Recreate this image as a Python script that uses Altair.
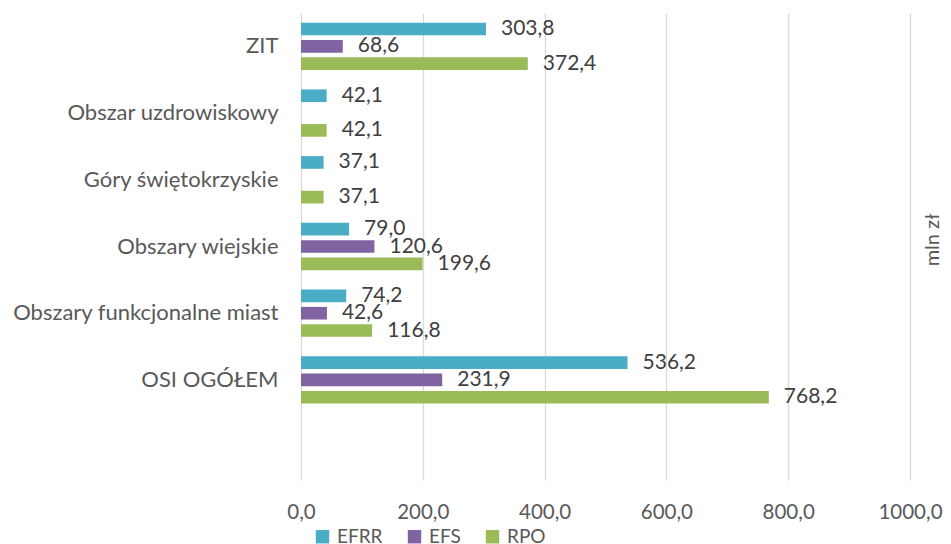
import altair as alt
import pandas as pd

categories = ["ZIT", "Obszar uzdrowiskowy", "Góry świętokrzyskie", "Obszary wiejskie",
              "Obszary funkcjonalne miast", "OSI OGÓŁEM"]
series = ["EFRR", "EFS", "RPO"]
efrr = [303.8, 42.1, 37.1, 79.0, 74.2, 536.2]
efs = [68.6, None, None, 120.6, 42.6, 231.9]
rpo = [372.4, 42.1, 37.1, 199.6, 116.8, 768.2]
x_ticks = [0, 200, 400, 600, 800, 1000]
colors = ["#4BACC6", "#8064A2", "#9BBB59"]
unit_label = ["mln zł"]

rows = []
for i, c in enumerate(categories):
    for s, vals in zip(series, [efrr, efs, rpo]):
        v = vals[i]
        if v is None:
            continue
        rows.append({"kategoria": c, "seria": s, "wartosc": v,
                     "etykieta": f"{v:.1f}".replace(".", ",")})
df = pd.DataFrame(rows)

y_domain = categories + [" "]
FONT = "Lato"

y_enc = alt.Y("kategoria:N", scale=alt.Scale(domain=y_domain, paddingInner=0, paddingOuter=0),
              sort=y_domain,
              axis=alt.Axis(title=None, domain=False, ticks=False, grid=False,
                            labelFont=FONT, labelFontSize=22, labelColor="#595959",
                            labelPadding=23, labelLimit=292,
                            minExtent=293, maxExtent=293))
yoff_enc = alt.YOffset("seria:N", scale=alt.Scale(domain=series, paddingInner=0.27, paddingOuter=0.56))
x_enc = alt.X("wartosc:Q", scale=alt.Scale(domain=[0, 1000], nice=False),
              axis=alt.Axis(title=None, values=x_ticks, grid=True, gridColor="#d9d9d9",
                            gridWidth=1.3, domain=False, ticks=False,
                            labelFont=FONT, labelFontSize=20.5, labelColor="#595959",
                            labelPadding=22, labelFlush=False, labelOverlap=False,
                            labelExpr="replace(format(datum.value, '.1f'), '.', ',')"))

bars = alt.Chart(df).mark_bar().encode(
    y=y_enc, yOffset=yoff_enc, x=x_enc,
    color=alt.Color("seria:N", scale=alt.Scale(domain=series, range=colors),
                    legend=alt.Legend(title=None, orient="none", direction="horizontal",
                                      legendX=12, legendY=514, padding=0,
                                      symbolType="square", symbolSize=180,
                                      symbolStrokeWidth=0, labelOffset=5,
                                      columnPadding=22,
                                      labelFont=FONT, labelFontSize=19,
                                      labelColor="#595959"))
)

labels = alt.Chart(df).mark_text(align="left", baseline="middle", dx=15,
                                 font=FONT, fontSize=21, color="#404040").encode(
    y=y_enc, yOffset=yoff_enc, x=x_enc, text="etykieta:N"
)

unit = alt.Chart(pd.DataFrame({"t": unit_label})).mark_text(
    angle=270, align="center", baseline="middle", font=FONT, fontSize=20, color="#595959"
).encode(text="t:N", x=alt.value(632), y=alt.value(227))

chart = alt.layer(bars, labels, unit).properties(
    width=609, height=467,
    autosize=alt.AutoSizeParams(type="none"),
    padding={"left": 293, "top": 5, "right": 33, "bottom": 70},
).configure(background="white").configure_view(stroke=None)

chart.save("out.html", embed_options={"renderer": "svg", "actions": False})
